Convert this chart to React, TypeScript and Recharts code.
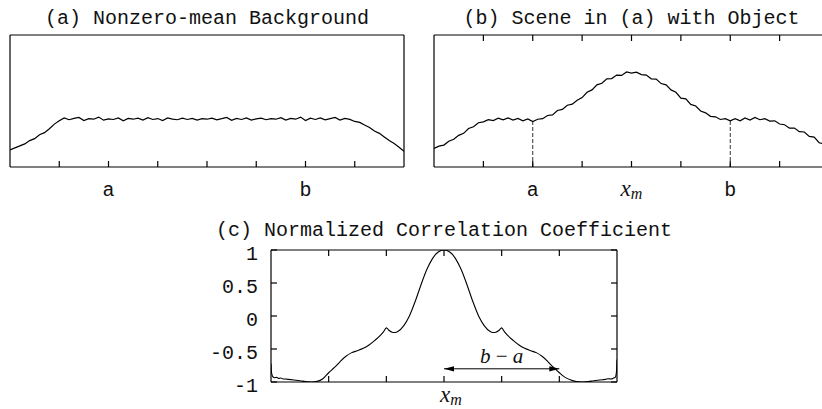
import React from 'react';
import { LineChart, Line, XAxis, YAxis, ReferenceLine } from 'recharts';

const MONO = '"Liberation Mono", "Courier New", monospace';
const SERIF = '"Liberation Serif", "Times New Roman", serif';
const INK = '#111';

// ---------- Panel (a) ----------
const A_TITLE = '(a) Nonzero-mean Background';
const A_STEP = 0.1;
const A_VALUES = [
  0.13, 0.145, 0.16, 0.175, 0.2, 0.215, 0.245, 0.26, 0.29, 0.325,
  0.35, 0.372, 0.358, 0.368, 0.375, 0.352, 0.366, 0.362, 0.378, 0.355,
  0.364, 0.36, 0.372, 0.35, 0.368, 0.362, 0.37, 0.356, 0.374, 0.36,
  0.367, 0.352, 0.372, 0.363, 0.358, 0.37, 0.36, 0.368, 0.355, 0.366,
  0.362, 0.37, 0.357, 0.366, 0.376, 0.354, 0.368, 0.36, 0.372, 0.356,
  0.365, 0.37, 0.358, 0.366, 0.362, 0.374, 0.355, 0.368, 0.362, 0.378,
  0.352, 0.37, 0.36, 0.372, 0.357, 0.366, 0.375, 0.355, 0.368, 0.361,
  0.345, 0.338, 0.318, 0.3, 0.272, 0.255, 0.228, 0.2, 0.178, 0.15,
  0.12,
];
const AB_TICKS = [1, 2, 3, 4, 5, 6, 7];
const A_LABEL_POS = [2, 6];
const A_LABEL_TEXT = ['a', 'b'];

// ---------- Panel (b) ----------
const B_TITLE = '(b) Scene in (a) with Object';
const B_STEP = 0.1;
const B_VALUES = [
  0.14, 0.158, 0.166, 0.195, 0.21, 0.24, 0.255, 0.292, 0.305, 0.335,
  0.342, 0.358, 0.352, 0.37, 0.358, 0.372, 0.356, 0.368, 0.35, 0.364,
  0.345, 0.362, 0.366, 0.39, 0.395, 0.428, 0.436, 0.468, 0.476, 0.505,
  0.526, 0.566, 0.584, 0.622, 0.634, 0.668, 0.67, 0.696, 0.694, 0.72,
  0.712, 0.718, 0.7, 0.696, 0.668, 0.666, 0.632, 0.622, 0.584, 0.566,
  0.522, 0.516, 0.474, 0.462, 0.424, 0.41, 0.384, 0.38, 0.36, 0.366,
  0.35, 0.366, 0.35, 0.372, 0.356, 0.376, 0.358, 0.366, 0.348, 0.35,
  0.326, 0.32, 0.294, 0.295, 0.268, 0.265, 0.232, 0.226, 0.184, 0.176,
  0.15,
];
const B_LABEL_POS = [2, 4, 6];
const B_LABEL_TEXT = ['a', 'x_m', 'b'];
const B_MARKERS = [2, 6];

// ---------- Panel (c) ----------
const C_TITLE = '(c) Normalized Correlation Coefficient';
const C_X = [
  0, 0.01, 0.03, 0.06, 0.1, 0.13, 0.17, 0.2, 0.25, 0.3,
  0.4, 0.5, 0.6, 0.7, 0.8, 0.9, 1.0,
  1.1, 1.2, 1.3, 1.4, 1.5, 1.6, 1.7, 1.8, 1.9,
  1.95, 2.0, 2.05, 2.1, 2.15, 2.2,
  2.3, 2.4, 2.5, 2.6, 2.7, 2.8, 2.9, 3.0,
  3.1, 3.2, 3.3, 3.4, 3.5, 3.6, 3.7, 3.8,
  3.85, 3.9, 3.95, 4.0, 4.05,
  4.1, 4.2, 4.3, 4.4, 4.5, 4.6, 4.7, 4.8, 4.9, 5.0, 5.1, 5.2, 5.3, 5.4, 5.5, 5.6, 5.7,
  5.75, 5.8, 5.85, 5.9, 5.94, 5.97, 5.99, 6.0,
];
const C_Y = [
  -0.72, -0.86, -0.92, -0.935, -0.93, -0.945, -0.94, -0.95, -0.955, -0.96,
  -0.97, -0.98, -0.995, -1.0, -0.99, -0.95, -0.86,
  -0.78, -0.69, -0.61, -0.555, -0.525, -0.49, -0.44, -0.37, -0.29,
  -0.24, -0.18, -0.22, -0.245, -0.25, -0.235,
  -0.15, 0.0, 0.22, 0.47, 0.7, 0.87, 0.97, 1.0,
  0.97, 0.87, 0.7, 0.47, 0.22, 0.0, -0.15, -0.235,
  -0.25, -0.245, -0.22, -0.18, -0.24,
  -0.29, -0.37, -0.44, -0.49, -0.525, -0.555, -0.61, -0.69, -0.78, -0.86, -0.93, -0.97, -0.995, -1.0, -0.995, -0.98, -0.97,
  -0.965, -0.96, -0.95, -0.955, -0.94, -0.93, -0.85, -0.66,
];
const C_XTICKS = [1, 2, 3, 4, 5];
const C_YTICKS = [-1, -0.5, 0, 0.5, 1];
const C_LABEL_POS = [3];
const C_LABEL_TEXT = ['x_m'];
const C_ARROW_FROM = 3;
const C_ARROW_TO = 5;
const C_ARROW_LEVEL = -0.8;

const aData = A_VALUES.map((y, i) => ({ x: +(i * A_STEP).toFixed(2), y }));
const bData = B_VALUES.map((y, i) => ({ x: +(i * B_STEP).toFixed(2), y }));
const cData = C_X.map((x, i) => ({ x, y: C_Y[i] }));

const EmptyTick = () => <g />;

function makeLabelTick(pos: number[], text: string[], dx = 0) {
  return (props: any) => {
    const { x, y, payload } = props;
    const t = text[pos.indexOf(payload.value)];
    if (t === undefined) return <g />;
    if (t === 'x_m') {
      return (
        <text x={x + dx} y={y} textAnchor="middle" fontFamily={SERIF} fontStyle="italic" fontSize={23} fill={INK}>
          x<tspan fontSize={16} dy={3}>m</tspan>
        </text>
      );
    }
    return (
      <text x={x} y={y} textAnchor="middle" fontFamily={MONO} fontSize={20} fill={INK}>
        {t}
      </text>
    );
  };
}

const ArrowShape = (props: any) => {
  const { x1, y1, x2, y2 } = props;
  const h = 10;
  const w = 2.6;
  return (
    <g>
      <line x1={x1} y1={y1} x2={x2} y2={y2} stroke="#000" strokeWidth={1} />
      <polygon points={`${x1},${y1} ${x1 + h},${y1 - w} ${x1 + h},${y1 + w}`} fill="#000" />
      <polygon points={`${x2},${y2} ${x2 - h},${y2 - w} ${x2 - h},${y2 + w}`} fill="#000" />
      <text x={(x1 + x2) / 2} y={y1 - 6} textAnchor="middle" fontFamily={SERIF} fontSize={21} fill={INK}>
        <tspan fontStyle="italic">b</tspan>
        {' \u2212 '}
        <tspan fontStyle="italic">a</tspan>
      </text>
    </g>
  );
};

const titleLabel = (value: string, offset: number) => ({
  value,
  position: 'top' as const,
  offset,
  fontFamily: MONO,
  fontSize: 20,
  fill: INK,
});

function NoisyPanel(props: {
  data: { x: number; y: number }[];
  title: string;
  width: number;
  margin: { top: number; right: number; left: number; bottom: number };
  topTicks: boolean;
  labelPos: number[];
  labelText: string[];
  markers?: number[];
  step: number;
  values: number[];
}) {
  const { data, title, width, margin, topTicks, labelPos, labelText, markers, step, values } = props;
  return (
    <LineChart width={width} height={215} data={data} margin={margin}>
      <XAxis
        xAxisId={0}
        dataKey="x"
        type="number"
        domain={[0, 8]}
        ticks={AB_TICKS}
        interval={0}
        orientation="bottom"
        mirror
        height={2}
        tick={EmptyTick}
        tickLine={{ stroke: '#000', strokeWidth: 1.2 }}
        tickSize={6}
        stroke="#000"
        strokeWidth={1.2}
        allowDataOverflow
      />
      <XAxis
        xAxisId="lab"
        dataKey="x"
        type="number"
        domain={[0, 8]}
        ticks={labelPos}
        interval={0}
        orientation="bottom"
        height={33}
        axisLine={false}
        tickLine={false}
        tickSize={0}
        tickMargin={29}
        tick={makeLabelTick(labelPos, labelText)}
        allowDataOverflow
      />
      <XAxis
        xAxisId="top"
        dataKey="x"
        type="number"
        domain={[0, 8]}
        ticks={AB_TICKS}
        interval={0}
        orientation="top"
        mirror
        height={2}
        tick={EmptyTick}
        tickLine={topTicks ? { stroke: '#000', strokeWidth: 1.2 } : false}
        tickSize={6}
        stroke="#000"
        strokeWidth={1.2}
        allowDataOverflow
        label={titleLabel(title, 11)}
      />
      <YAxis yAxisId={0} mirror type="number" domain={[0, 1]} width={2} tick={false} tickLine={false} stroke="#000" strokeWidth={1.2} allowDataOverflow />
      <YAxis yAxisId="r" mirror orientation="right" type="number" domain={[0, 1]} width={2} tick={false} tickLine={false} stroke="#000" strokeWidth={1.2} allowDataOverflow />
      {(markers || []).map((m) => (
        <ReferenceLine
          key={m}
          segment={[
            { x: m, y: 0 },
            { x: m, y: values[Math.round(m / step)] },
          ]}
          stroke="#333"
          strokeWidth={1}
          strokeDasharray="4 2"
        />
      ))}
      <Line dataKey="y" type="linear" stroke="#000" strokeWidth={1.2} dot={false} isAnimationActive={false} />
    </LineChart>
  );
}

export default function App() {
  return (
    <div style={{ position: 'absolute', left: 0, top: 0, width: 822, height: 409, overflow: 'hidden', background: '#fff' }}>
      <div style={{ position: 'absolute', left: 0, top: 0 }}>
        <NoisyPanel
          data={aData}
          title={A_TITLE}
          width={411}
          margin={{ top: 35, right: 7, left: 10, bottom: 15 }}
          topTicks={false}
          labelPos={A_LABEL_POS}
          labelText={A_LABEL_TEXT}
          step={A_STEP}
          values={A_VALUES}
        />
      </div>
      <div style={{ position: 'absolute', left: 411, top: 0 }}>
        <NoisyPanel
          data={bData}
          title={B_TITLE}
          width={430}
          margin={{ top: 35, right: 12, left: 23, bottom: 15 }}
          topTicks={true}
          labelPos={B_LABEL_POS}
          labelText={B_LABEL_TEXT}
          markers={B_MARKERS}
          step={B_STEP}
          values={B_VALUES}
        />
      </div>
      <div style={{ position: 'absolute', left: 150, top: 200 }}>
        <LineChart width={560} height={220} data={cData} margin={{ top: 50, right: 93, left: 61, bottom: 11 }}>
          <XAxis
            xAxisId={0}
            dataKey="x"
            type="number"
            domain={[0, 6]}
            ticks={C_XTICKS}
            interval={0}
            orientation="bottom"
            mirror
            height={2}
            tick={EmptyTick}
            tickLine={{ stroke: '#000', strokeWidth: 1.2 }}
            tickSize={6}
            stroke="#000"
            strokeWidth={1.2}
            allowDataOverflow
          />
          <XAxis
            xAxisId="lab"
            dataKey="x"
            type="number"
            domain={[0, 6]}
            ticks={C_LABEL_POS}
            interval={0}
            orientation="bottom"
            height={27}
            axisLine={false}
            tickLine={false}
            tickSize={0}
            tickMargin={20}
            tick={makeLabelTick(C_LABEL_POS, C_LABEL_TEXT, 7)}
            allowDataOverflow
          />
          <XAxis
            xAxisId="top"
            dataKey="x"
            type="number"
            domain={[0, 6]}
            ticks={C_XTICKS}
            interval={0}
            orientation="top"
            mirror
            height={2}
            tick={EmptyTick}
            tickLine={{ stroke: '#000', strokeWidth: 1.2 }}
            tickSize={6}
            stroke="#000"
            strokeWidth={1.2}
            allowDataOverflow
            label={titleLabel(C_TITLE, 14)}
          />
          <YAxis
            yAxisId={0}
            type="number"
            domain={[-1, 1]}
            ticks={C_YTICKS}
            interval={0}
            mirror
            width={2}
            tick={EmptyTick}
            tickLine={{ stroke: '#000', strokeWidth: 1.2 }}
            tickSize={6}
            stroke="#000"
            strokeWidth={1.2}
            allowDataOverflow
          />
          <YAxis
            yAxisId="lab"
            type="number"
            domain={[-1, 1]}
            ticks={C_YTICKS}
            interval={0}
            width={60}
            axisLine={false}
            tickLine={false}
            tickSize={0}
            tickMargin={13}
            tick={{ fontFamily: MONO, fontSize: 20, fill: INK, dy: 3 }}
            allowDataOverflow
          />
          <YAxis
            yAxisId="r"
            orientation="right"
            type="number"
            domain={[-1, 1]}
            ticks={C_YTICKS}
            interval={0}
            mirror
            width={2}
            tick={EmptyTick}
            tickLine={{ stroke: '#000', strokeWidth: 1.2 }}
            tickSize={6}
            stroke="#000"
            strokeWidth={1.2}
            allowDataOverflow
          />
          <ReferenceLine
            segment={[
              { x: C_ARROW_FROM, y: C_ARROW_LEVEL },
              { x: C_ARROW_TO, y: C_ARROW_LEVEL },
            ]}
            shape={ArrowShape}
          />
          <Line dataKey="y" type="monotone" stroke="#000" strokeWidth={1.1} dot={false} isAnimationActive={false} />
        </LineChart>
      </div>
    </div>
  );
}
